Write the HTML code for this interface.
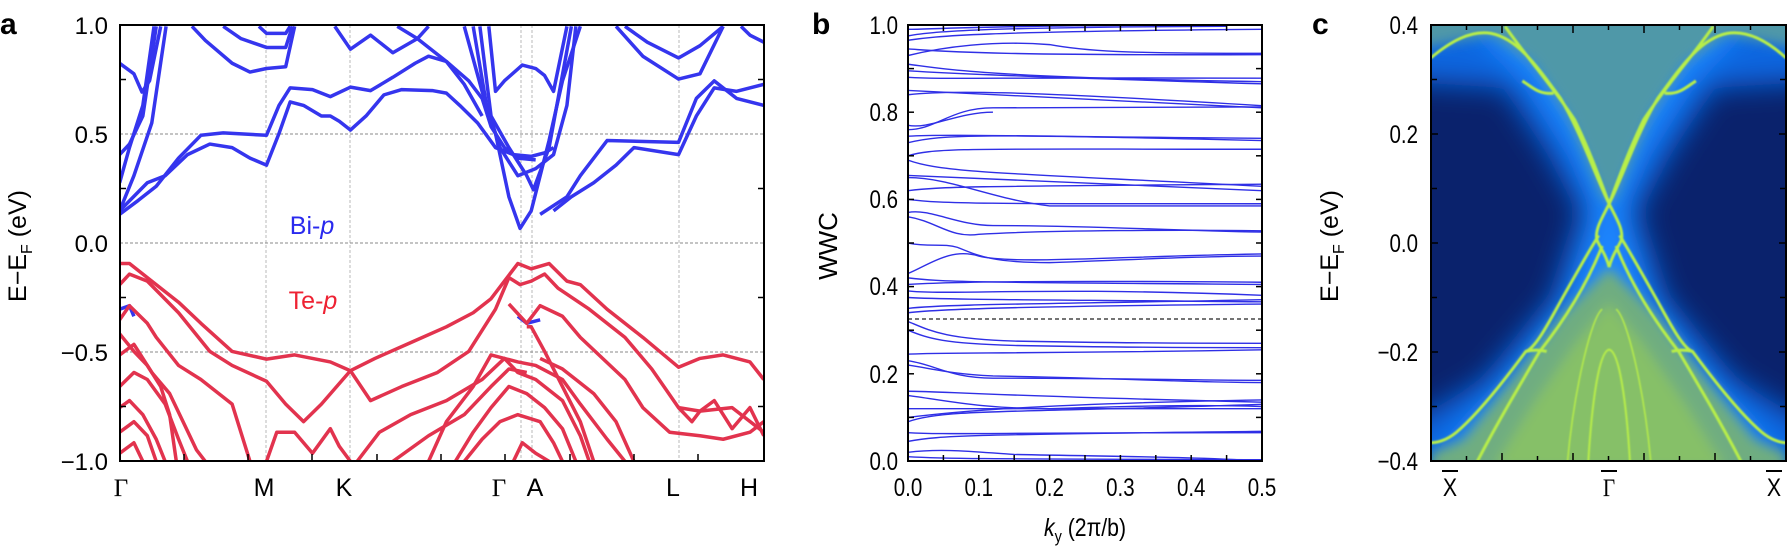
<!DOCTYPE html>
<html><head><meta charset="utf-8"><style>
html,body{margin:0;padding:0;background:#fff;}
svg{display:block;font-family:"Liberation Sans",sans-serif;}
</style></head><body>
<svg width="1788" height="551" viewBox="0 0 1788 551" xmlns="http://www.w3.org/2000/svg">
<defs>
<clipPath id="ca"><rect x="120" y="25" width="644" height="436"/></clipPath>
<clipPath id="cb"><rect x="908" y="25" width="354" height="436"/></clipPath>
<clipPath id="cc"><rect x="1431" y="25" width="355" height="436"/></clipPath>
<filter id="b15" x="-20%" y="-20%" width="140%" height="140%"><feGaussianBlur stdDeviation="14"/></filter>
<filter id="b6" x="-20%" y="-20%" width="140%" height="140%"><feGaussianBlur stdDeviation="6"/></filter>
<filter id="b1"><feGaussianBlur stdDeviation="0.9"/></filter>
</defs>

<!-- ===== Panel a ===== -->
<text x="0" y="34" font-size="30" font-weight="bold">a</text>
<g clip-path="url(#ca)">
<g stroke="#8a8a8a" stroke-width="1" stroke-dasharray="3,2" fill="none">
<line x1="120" y1="134" x2="764" y2="134"/><line x1="120" y1="243" x2="764" y2="243"/><line x1="120" y1="352" x2="764" y2="352"/>
<line x1="266" y1="25" x2="266" y2="461" stroke-width="0.6"/><line x1="350" y1="25" x2="350" y2="461" stroke-width="0.6"/>
<line x1="521" y1="25" x2="521" y2="461" stroke-width="0.6"/><line x1="532" y1="25" x2="532" y2="461" stroke-width="0.6"/>
<line x1="679" y1="25" x2="679" y2="461" stroke-width="0.6"/>
</g>
<g transform="scale(0.4464,0.3514)" fill="none" stroke-linejoin="round">
<g stroke="#3535ee" stroke-width="3.5" vector-effect="non-scaling-stroke">
<path vector-effect="non-scaling-stroke" d="M268,180 L300,210 L318,262 L335,230 L360,75"/>
<path vector-effect="non-scaling-stroke" d="M268,600 L300,500 L340,350 L372,75"/>
<path vector-effect="non-scaling-stroke" d="M268,520 L290,420 L320,300 L345,75"/>
<path vector-effect="non-scaling-stroke" d="M268,440 L290,410 L320,330 L350,75"/>
<path vector-effect="non-scaling-stroke" d="M268,600 L330,520 L370,500 L420,440 L470,410 L520,420 L560,450 L597,470 L625,380 L650,290 L680,300 L720,330 L740,330 L760,345 L785,370 L820,330 L860,270 L900,255 L970,258 L1000,265 L1030,300 L1070,350 L1110,420 L1150,440 L1190,445 L1220,435 L1240,420"/>
<path vector-effect="non-scaling-stroke" d="M268,610 L310,570 L350,530 L400,450 L450,385 L500,378 L597,385 L625,300 L650,250 L700,255 L740,275 L785,248 L830,258 L880,220 L930,180 L960,160 L1000,175 L1050,230 L1080,280 L1100,360 L1130,420 L1160,450 L1200,455"/>
<path vector-effect="non-scaling-stroke" d="M430,75 L460,115 L520,180 L560,205 L597,195 L640,190 L660,75"/>
<path vector-effect="non-scaling-stroke" d="M500,75 L540,110 L597,135 L640,135 L655,75"/>
<path vector-effect="non-scaling-stroke" d="M580,75 L597,95 L640,95 L650,75"/>
<path vector-effect="non-scaling-stroke" d="M750,75 L785,140 L830,100 L880,150 L935,110 L960,75"/>
<path vector-effect="non-scaling-stroke" d="M890,75 L935,110 L1000,175 L1040,240 L1080,330"/>
<path vector-effect="non-scaling-stroke" d="M1095,75 L1110,260 L1130,230 L1170,185 L1200,195 L1220,215 L1240,260 L1270,75"/>
<path vector-effect="non-scaling-stroke" d="M1040,75 L1080,260 L1110,380 L1140,560 L1165,650 L1190,600 L1230,400 L1260,230 L1300,75"/>
<path vector-effect="non-scaling-stroke" d="M1060,75 L1090,300 L1120,420 L1160,500 L1200,480 L1240,440 L1270,300 L1290,75"/>
<path vector-effect="non-scaling-stroke" d="M1075,75 L1100,330 L1140,420 L1180,500 L1195,540 L1230,420 L1280,75"/>
<path vector-effect="non-scaling-stroke" d="M1240,600 L1280,560 L1330,520 L1380,470 L1420,420 L1520,440 L1560,330 L1600,250 L1650,260 L1711,240"/>
<path vector-effect="non-scaling-stroke" d="M1210,610 L1270,560 L1300,500 L1360,400 L1520,405 L1560,280 L1600,230 L1650,280 L1711,300"/>
<path vector-effect="non-scaling-stroke" d="M1400,75 L1450,120 L1520,165 L1568,130 L1620,75"/>
<path vector-effect="non-scaling-stroke" d="M1380,75 L1440,160 L1520,225 L1568,210 L1620,75"/>
<path vector-effect="non-scaling-stroke" d="M1660,75 L1680,100 L1711,120"/>
<path vector-effect="non-scaling-stroke" d="M268,880 L290,870 L300,900"/>
<path vector-effect="non-scaling-stroke" d="M1160,900 L1180,920 L1210,910"/>
</g>
<g stroke="#e2334e" stroke-width="3.5">
<path vector-effect="non-scaling-stroke" d="M268,750 L290,750 L330,790 L400,860 L450,920 L520,1000 L597,1022 L660,1010 L700,1020 L740,1030 L785,1055 L840,1020 L920,975 L1000,930 L1060,890 L1100,850 L1160,750 L1190,765 L1230,750 L1270,800 L1300,810 L1360,880 L1440,960 L1520,1045 L1568,1020 L1620,1010 L1680,1030 L1711,1080"/>
<path vector-effect="non-scaling-stroke" d="M268,810 L290,780 L330,800 L400,890 L470,1000 L520,1040 L597,1085 L640,1150 L680,1200 L720,1150 L785,1055 L830,1140 L900,1100 L980,1060 L1050,1000 L1110,880 L1140,790 L1165,810 L1190,800 L1220,780 L1250,820 L1320,880 L1400,960 L1460,1050 L1520,1160 L1568,1170 L1640,1160 L1711,1230"/>
<path vector-effect="non-scaling-stroke" d="M268,910 L290,870 L330,920 L350,960 L400,1040 L450,1080 L520,1150 L560,1313"/>
<path vector-effect="non-scaling-stroke" d="M1140,865 L1180,920 L1210,870 L1260,900 L1300,960 L1400,1080 L1440,1160 L1500,1230 L1568,1240 L1620,1250 L1680,1230 L1711,1200"/>
<path vector-effect="non-scaling-stroke" d="M1180,930 L1190,930 L1220,1000 L1260,1100 L1300,1200 L1330,1313"/>
<path vector-effect="non-scaling-stroke" d="M960,1313 L1000,1200 L1060,1100 L1100,1010 L1160,1030 L1200,1040 L1260,1080 L1300,1150 L1360,1250 L1400,1313"/>
<path vector-effect="non-scaling-stroke" d="M800,1313 L850,1230 L920,1180 L1000,1140 L1080,1080 L1130,1020 L1160,1060 L1200,1080 L1260,1140 L1300,1240 L1320,1313"/>
<path vector-effect="non-scaling-stroke" d="M597,1313 L620,1230 L660,1230 L700,1290 L740,1220 L760,1270 L785,1313"/>
<path vector-effect="non-scaling-stroke" d="M268,1010 L300,980 L340,1060 L380,1120 L410,1200 L440,1280 L460,1313"/>
<path vector-effect="non-scaling-stroke" d="M268,1100 L300,1060 L330,1080 L370,1150 L400,1250 L420,1313"/>
<path vector-effect="non-scaling-stroke" d="M268,1160 L290,1140 L320,1180 L350,1250 L370,1313"/>
<path vector-effect="non-scaling-stroke" d="M268,1230 L300,1200 L330,1240 L350,1313"/>
<path vector-effect="non-scaling-stroke" d="M268,1290 L300,1260 L320,1313"/>
<path vector-effect="non-scaling-stroke" d="M268,950 L300,1000 L330,1040 L360,1100 L380,1180 L395,1313"/>
<path vector-effect="non-scaling-stroke" d="M1020,1313 L1060,1230 L1100,1160 L1140,1100 L1180,1120 L1220,1160 L1260,1220 L1290,1313"/>
<path vector-effect="non-scaling-stroke" d="M1040,1313 L1080,1250 L1120,1200 L1160,1180 L1210,1200 L1240,1260 L1260,1313"/>
<path vector-effect="non-scaling-stroke" d="M880,1313 L960,1240 L1040,1180 L1100,1100 L1140,1050 L1180,1060"/>
<path vector-effect="non-scaling-stroke" d="M1210,1020 L1260,1050 L1330,1120 L1380,1200 L1420,1313"/>
<path vector-effect="non-scaling-stroke" d="M1520,1160 L1550,1200 L1568,1170 L1600,1140 L1640,1220 L1680,1160 L1711,1240"/>
<path vector-effect="non-scaling-stroke" d="M1150,1313 L1170,1260 L1200,1290 L1230,1313"/>
</g>
</g>
</g>
<rect x="120" y="25" width="644" height="436" fill="none" stroke="#000" stroke-width="2"/>
<g stroke="#000" stroke-width="1.5">
<line x1="120" y1="79.5" x2="126" y2="79.5"/><line x1="120" y1="188.5" x2="126" y2="188.5"/><line x1="120" y1="297.5" x2="126" y2="297.5"/><line x1="120" y1="406.5" x2="126" y2="406.5"/>
<line x1="764" y1="79.5" x2="758" y2="79.5"/><line x1="764" y1="188.5" x2="758" y2="188.5"/><line x1="764" y1="297.5" x2="758" y2="297.5"/><line x1="764" y1="406.5" x2="758" y2="406.5"/>
<line x1="184" y1="461" x2="184" y2="454"/><line x1="248" y1="461" x2="248" y2="454"/><line x1="312" y1="461" x2="312" y2="454"/><line x1="377" y1="461" x2="377" y2="454"/><line x1="441" y1="461" x2="441" y2="454"/><line x1="505" y1="461" x2="505" y2="454"/><line x1="570" y1="461" x2="570" y2="454"/><line x1="634" y1="461" x2="634" y2="454"/><line x1="698" y1="461" x2="698" y2="454"/>
</g>
<g font-size="24" text-anchor="end">
<text x="108" y="34">1.0</text><text x="108" y="143">0.5</text><text x="108" y="252">0.0</text><text x="108" y="361">−0.5</text><text x="108" y="470">−1.0</text>
</g>
<text transform="translate(26,246) rotate(-90)" font-size="25" text-anchor="middle">E−E<tspan font-size="16" dy="6">F</tspan><tspan dy="-6"> (eV)</tspan></text>
<g font-size="25" text-anchor="middle">
<text x="121" y="496" font-family="Liberation Serif,serif">Γ</text><text x="264" y="496">M</text><text x="344" y="496">K</text>
<text x="499" y="496" font-family="Liberation Serif,serif">Γ</text><text x="535" y="496">A</text><text x="673" y="496">L</text><text x="749" y="496">H</text>
</g>
<text x="312" y="234" font-size="25" text-anchor="middle" fill="#2a2aee">Bi-<tspan font-style="italic">p</tspan></text>
<text x="313" y="309" font-size="25" text-anchor="middle" fill="#ee2233">Te-<tspan font-style="italic">p</tspan></text>

<!-- ===== Panel b ===== -->
<text x="812" y="34" font-size="30" font-weight="bold">b</text>
<g clip-path="url(#cb)">
<line x1="908" y1="319" x2="1262" y2="319" stroke="#222" stroke-width="1.3" stroke-dasharray="4,3"/>
<g transform="translate(908,461) scale(708,-436)" fill="none" stroke="#2f2fe6" stroke-width="1.4">
<path vector-effect="non-scaling-stroke" d="M0,0.99 C0.04,0.99 0.08,1.0 0.5,1.0"/>
<path vector-effect="non-scaling-stroke" d="M0,0.965 C0.04,0.975 0.1,0.985 0.5,0.99"/>
<path vector-effect="non-scaling-stroke" d="M0,0.975 C0.03,0.985 0.1,0.995 0.45,0.997"/>
<path vector-effect="non-scaling-stroke" d="M0,0.945 C0.05,0.94 0.1,0.93 0.5,0.932"/>
<path vector-effect="non-scaling-stroke" d="M0,0.93 C0.05,0.95 0.12,0.965 0.2,0.955 C0.25,0.94 0.3,0.935 0.5,0.935"/>
<path vector-effect="non-scaling-stroke" d="M0,0.91 C0.05,0.9 0.1,0.88 0.5,0.87"/>
<path vector-effect="non-scaling-stroke" d="M0,0.895 C0.05,0.89 0.1,0.885 0.5,0.865"/>
<path vector-effect="non-scaling-stroke" d="M0,0.88 C0.05,0.875 0.1,0.88 0.5,0.878"/>
<path vector-effect="non-scaling-stroke" d="M0,0.85 C0.05,0.845 0.15,0.84 0.5,0.81"/>
<path vector-effect="non-scaling-stroke" d="M0,0.84 C0.05,0.85 0.15,0.85 0.5,0.815"/>
<path vector-effect="non-scaling-stroke" d="M0,0.76 C0.04,0.76 0.06,0.81 0.12,0.81 C0.2,0.81 0.3,0.81 0.5,0.812"/>
<path vector-effect="non-scaling-stroke" d="M0,0.77 C0.03,0.76 0.07,0.8 0.12,0.8"/>
<path vector-effect="non-scaling-stroke" d="M0,0.73 C0.05,0.75 0.1,0.75 0.5,0.735"/>
<path vector-effect="non-scaling-stroke" d="M0,0.745 C0.05,0.75 0.15,0.745 0.5,0.74"/>
<path vector-effect="non-scaling-stroke" d="M0,0.7 C0.04,0.72 0.1,0.715 0.5,0.715"/>
<path vector-effect="non-scaling-stroke" d="M0,0.69 C0.05,0.66 0.15,0.66 0.5,0.63"/>
<path vector-effect="non-scaling-stroke" d="M0,0.655 C0.05,0.65 0.15,0.645 0.5,0.62"/>
<path vector-effect="non-scaling-stroke" d="M0,0.65 C0.06,0.65 0.12,0.6 0.2,0.585 C0.3,0.585 0.4,0.585 0.5,0.585"/>
<path vector-effect="non-scaling-stroke" d="M0,0.62 C0.05,0.63 0.1,0.63 0.5,0.635"/>
<path vector-effect="non-scaling-stroke" d="M0,0.6 C0.05,0.59 0.1,0.59 0.5,0.59"/>
<path vector-effect="non-scaling-stroke" d="M0,0.57 C0.03,0.58 0.07,0.54 0.12,0.54 C0.25,0.54 0.35,0.53 0.5,0.525"/>
<path vector-effect="non-scaling-stroke" d="M0,0.56 C0.04,0.55 0.06,0.51 0.1,0.52 C0.2,0.53 0.4,0.53 0.5,0.528"/>
<path vector-effect="non-scaling-stroke" d="M0,0.5 C0.03,0.49 0.05,0.5 0.07,0.49 C0.1,0.47 0.12,0.455 0.2,0.455 C0.3,0.46 0.4,0.47 0.5,0.47"/>
<path vector-effect="non-scaling-stroke" d="M0,0.43 C0.03,0.45 0.06,0.49 0.1,0.47 C0.15,0.45 0.3,0.47 0.5,0.475"/>
<path vector-effect="non-scaling-stroke" d="M0,0.42 C0.05,0.41 0.1,0.41 0.5,0.405"/>
<path vector-effect="non-scaling-stroke" d="M0,0.405 C0.05,0.41 0.15,0.415 0.5,0.41"/>
<path vector-effect="non-scaling-stroke" d="M0,0.39 C0.05,0.38 0.2,0.4 0.5,0.38"/>
<path vector-effect="non-scaling-stroke" d="M0,0.375 C0.05,0.37 0.2,0.37 0.5,0.365"/>
<path vector-effect="non-scaling-stroke" d="M0,0.35 C0.05,0.36 0.2,0.36 0.5,0.37"/>
<path vector-effect="non-scaling-stroke" d="M0,0.34 C0.05,0.35 0.2,0.355 0.5,0.36"/>
<path vector-effect="non-scaling-stroke" d="M0,0.32 C0.03,0.3 0.05,0.28 0.15,0.275 C0.3,0.27 0.4,0.27 0.5,0.27"/>
<path vector-effect="non-scaling-stroke" d="M0,0.3 C0.03,0.28 0.05,0.27 0.15,0.265 C0.3,0.26 0.4,0.26 0.5,0.26"/>
<path vector-effect="non-scaling-stroke" d="M0,0.245 C0.05,0.25 0.15,0.245 0.5,0.255"/>
<path vector-effect="non-scaling-stroke" d="M0,0.23 C0.04,0.22 0.06,0.19 0.12,0.19 C0.3,0.19 0.4,0.185 0.5,0.185"/>
<path vector-effect="non-scaling-stroke" d="M0,0.22 C0.04,0.21 0.06,0.2 0.12,0.195 C0.3,0.19 0.4,0.18 0.5,0.18"/>
<path vector-effect="non-scaling-stroke" d="M0,0.16 C0.05,0.16 0.1,0.15 0.5,0.135"/>
<path vector-effect="non-scaling-stroke" d="M0,0.15 C0.05,0.14 0.1,0.12 0.2,0.12 C0.3,0.125 0.4,0.13 0.5,0.125"/>
<path vector-effect="non-scaling-stroke" d="M0,0.12 C0.05,0.12 0.15,0.12 0.5,0.12"/>
<path vector-effect="non-scaling-stroke" d="M0,0.09 C0.05,0.12 0.15,0.11 0.5,0.13"/>
<path vector-effect="non-scaling-stroke" d="M0,0.1 C0.05,0.11 0.15,0.13 0.5,0.14"/>
<path vector-effect="non-scaling-stroke" d="M0,0.065 C0.05,0.06 0.1,0.065 0.5,0.065"/>
<path vector-effect="non-scaling-stroke" d="M0,0.045 C0.05,0.06 0.1,0.06 0.5,0.068"/>
<path vector-effect="non-scaling-stroke" d="M0,0.02 C0.05,0.03 0.1,0.02 0.15,0.015 C0.3,0.01 0.4,0.01 0.5,0.0"/>
<path vector-effect="non-scaling-stroke" d="M0,0.01 C0.05,0.005 0.1,0.005 0.5,0.003"/>
</g>
</g>
<rect x="908" y="25" width="354" height="436" fill="none" stroke="#000" stroke-width="2"/>
<g stroke="#000" stroke-width="1.5">
<line x1="908" y1="68.6" x2="914" y2="68.6"/><line x1="908" y1="112.2" x2="914" y2="112.2"/><line x1="908" y1="155.8" x2="914" y2="155.8"/><line x1="908" y1="199.4" x2="914" y2="199.4"/><line x1="908" y1="243" x2="914" y2="243"/><line x1="908" y1="286.6" x2="914" y2="286.6"/><line x1="908" y1="330.2" x2="914" y2="330.2"/><line x1="908" y1="373.8" x2="914" y2="373.8"/><line x1="908" y1="417.4" x2="914" y2="417.4"/>
<line x1="1262" y1="68.6" x2="1256" y2="68.6"/><line x1="1262" y1="112.2" x2="1256" y2="112.2"/><line x1="1262" y1="155.8" x2="1256" y2="155.8"/><line x1="1262" y1="199.4" x2="1256" y2="199.4"/><line x1="1262" y1="243" x2="1256" y2="243"/><line x1="1262" y1="286.6" x2="1256" y2="286.6"/><line x1="1262" y1="330.2" x2="1256" y2="330.2"/><line x1="1262" y1="373.8" x2="1256" y2="373.8"/><line x1="1262" y1="417.4" x2="1256" y2="417.4"/>
<line x1="943.4" y1="461" x2="943.4" y2="455"/><line x1="978.8" y1="461" x2="978.8" y2="455"/><line x1="1014.2" y1="461" x2="1014.2" y2="455"/><line x1="1049.6" y1="461" x2="1049.6" y2="455"/><line x1="1085" y1="461" x2="1085" y2="455"/><line x1="1120.4" y1="461" x2="1120.4" y2="455"/><line x1="1155.8" y1="461" x2="1155.8" y2="455"/><line x1="1191.2" y1="461" x2="1191.2" y2="455"/><line x1="1226.6" y1="461" x2="1226.6" y2="455"/>
<line x1="943.4" y1="25" x2="943.4" y2="31"/><line x1="978.8" y1="25" x2="978.8" y2="31"/><line x1="1014.2" y1="25" x2="1014.2" y2="31"/><line x1="1049.6" y1="25" x2="1049.6" y2="31"/><line x1="1085" y1="25" x2="1085" y2="31"/><line x1="1120.4" y1="25" x2="1120.4" y2="31"/><line x1="1155.8" y1="25" x2="1155.8" y2="31"/><line x1="1191.2" y1="25" x2="1191.2" y2="31"/><line x1="1226.6" y1="25" x2="1226.6" y2="31"/>
</g>
<g font-size="25" text-anchor="end">
<text x="898" y="34" transform="translate(898,0) scale(0.82,1) translate(-898,0)">1.0</text>
<text x="898" y="121" transform="translate(898,0) scale(0.82,1) translate(-898,0)">0.8</text>
<text x="898" y="208" transform="translate(898,0) scale(0.82,1) translate(-898,0)">0.6</text>
<text x="898" y="295" transform="translate(898,0) scale(0.82,1) translate(-898,0)">0.4</text>
<text x="898" y="383" transform="translate(898,0) scale(0.82,1) translate(-898,0)">0.2</text>
<text x="898" y="470" transform="translate(898,0) scale(0.82,1) translate(-898,0)">0.0</text>
</g>
<g font-size="25" text-anchor="middle">
<text transform="translate(908,496) scale(0.82,1)">0.0</text>
<text transform="translate(978.8,496) scale(0.82,1)">0.1</text>
<text transform="translate(1049.6,496) scale(0.82,1)">0.2</text>
<text transform="translate(1120.4,496) scale(0.82,1)">0.3</text>
<text transform="translate(1191.2,496) scale(0.82,1)">0.4</text>
<text transform="translate(1262,496) scale(0.82,1)">0.5</text>
</g>
<text transform="translate(837,246) rotate(-90)" font-size="26" text-anchor="middle">WWC</text>
<text transform="translate(1085,536) scale(0.85,1)" font-size="25" text-anchor="middle"><tspan font-style="italic">k</tspan><tspan font-size="17" dy="6">y</tspan><tspan dy="-6"> (2π/b)</tspan></text>

<!-- ===== Panel c ===== -->
<text x="1312" y="34" font-size="30" font-weight="bold">c</text>
<g clip-path="url(#cc)">
<rect x="1431" y="25" width="355" height="436" fill="#0a226c"/>
<g filter="url(#b15)">
<g transform="translate(700,0) scale(0.694,0.3514)">
<polygon fill="#1166e0" points="1000,30 1620,30 1620,230 1460,250 1400,430 1350,600 1390,850 1490,1080 1620,1230 1620,1360 1000,1360 1000,1230 1130,1080 1230,850 1270,600 1220,430 1160,250 1000,230"/>
<polygon fill="#1a86ff" points="1100,30 1520,30 1420,250 1360,440 1330,600 1370,840 1450,1060 1530,1240 1565,1360 1053,1360 1090,1240 1170,1060 1250,840 1290,600 1260,440 1200,250"/>
</g>
</g>
<g filter="url(#b6)">
<g transform="translate(700,0) scale(0.694,0.3514)">
<polygon fill="#4f98a8" points="1030,30 1590,30 1590,140 1480,100 1420,180 1370,330 1320,560 1310,580 1300,560 1250,330 1200,180 1140,100 1030,140"/>
<polygon fill="#70ad80" points="1310,760 1380,900 1450,1080 1520,1250 1565,1290 1565,1340 1053,1340 1053,1290 1100,1250 1170,1080 1240,900"/>
<polygon fill="#86c068" points="1310,860 1360,980 1420,1150 1480,1340 1140,1340 1200,1150 1260,980"/>
</g>
</g>
<g filter="url(#b1)">
<g transform="translate(700,0) scale(0.694,0.3514)" fill="none" stroke="#b8ee48" stroke-width="3">
<path vector-effect="non-scaling-stroke" d="M1053,165 C1080,120 1110,85 1140,95 C1180,110 1210,200 1240,280 C1270,380 1290,500 1310,580 C1330,500 1350,380 1380,280 C1410,200 1440,110 1480,95 C1510,85 1540,120 1565,165"/>
<path vector-effect="non-scaling-stroke" d="M1160,75 C1190,160 1230,250 1260,340 C1280,420 1295,500 1310,580 C1325,500 1340,420 1360,340 C1390,250 1430,160 1460,75"/>
<path vector-effect="non-scaling-stroke" d="M1185,230 C1200,250 1210,270 1230,265"/>
<path vector-effect="non-scaling-stroke" d="M1435,230 C1420,250 1410,270 1390,265"/>
<path vector-effect="non-scaling-stroke" d="M1310,580 C1300,620 1290,650 1292,680 C1295,700 1305,720 1310,760 C1315,720 1325,700 1328,680 C1330,650 1320,620 1310,580"/>
<path vector-effect="non-scaling-stroke" d="M1295,670 C1285,700 1265,770 1245,840 C1225,910 1205,990 1190,1000 C1160,1080 1120,1180 1090,1230 C1075,1255 1060,1260 1053,1260"/>
<path vector-effect="non-scaling-stroke" d="M1325,670 C1335,700 1355,770 1375,840 C1395,910 1415,990 1430,1000 C1460,1080 1500,1180 1530,1230 C1545,1255 1560,1260 1565,1260"/>
<path vector-effect="non-scaling-stroke" d="M1300,700 C1280,800 1250,900 1210,1000 C1180,1100 1150,1200 1120,1313"/>
<path vector-effect="non-scaling-stroke" d="M1320,700 C1340,800 1370,900 1410,1000 C1440,1100 1470,1200 1500,1313"/>
<path vector-effect="non-scaling-stroke" d="M1190,1000 C1200,995 1210,995 1220,1000"/>
<path vector-effect="non-scaling-stroke" d="M1430,1000 C1420,995 1410,995 1400,1000"/>
<path vector-effect="non-scaling-stroke" d="M1280,1313 C1285,1150 1295,1000 1310,995 C1325,1000 1335,1150 1340,1313" stroke-width="2"/>
<path vector-effect="non-scaling-stroke" d="M1250,1313 C1260,1100 1285,900 1300,880" stroke-width="1.5"/>
<path vector-effect="non-scaling-stroke" d="M1370,1313 C1360,1100 1335,900 1320,880" stroke-width="1.5"/>
</g>
</g>
</g>
<rect x="1431" y="25" width="355" height="436" fill="none" stroke="#000" stroke-width="2"/>
<g stroke="#000" stroke-width="1.5">
<line x1="1431" y1="79.5" x2="1437" y2="79.5"/><line x1="1431" y1="134" x2="1438" y2="134"/><line x1="1431" y1="188.5" x2="1437" y2="188.5"/><line x1="1431" y1="243" x2="1438" y2="243"/><line x1="1431" y1="297.5" x2="1437" y2="297.5"/><line x1="1431" y1="352" x2="1438" y2="352"/><line x1="1431" y1="406.5" x2="1437" y2="406.5"/>
<line x1="1786" y1="79.5" x2="1780" y2="79.5"/><line x1="1786" y1="134" x2="1779" y2="134"/><line x1="1786" y1="188.5" x2="1780" y2="188.5"/><line x1="1786" y1="243" x2="1779" y2="243"/><line x1="1786" y1="297.5" x2="1780" y2="297.5"/><line x1="1786" y1="352" x2="1779" y2="352"/><line x1="1786" y1="406.5" x2="1780" y2="406.5"/>
<line x1="1466.5" y1="25" x2="1466.5" y2="30"/><line x1="1502" y1="25" x2="1502" y2="33"/><line x1="1537.5" y1="25" x2="1537.5" y2="30"/><line x1="1573" y1="25" x2="1573" y2="33"/><line x1="1608.5" y1="25" x2="1608.5" y2="30"/><line x1="1644" y1="25" x2="1644" y2="33"/><line x1="1679.5" y1="25" x2="1679.5" y2="30"/><line x1="1715" y1="25" x2="1715" y2="33"/><line x1="1750.5" y1="25" x2="1750.5" y2="30"/>
<line x1="1466.5" y1="461" x2="1466.5" y2="456"/><line x1="1502" y1="461" x2="1502" y2="453"/><line x1="1537.5" y1="461" x2="1537.5" y2="456"/><line x1="1573" y1="461" x2="1573" y2="453"/><line x1="1608.5" y1="461" x2="1608.5" y2="456"/><line x1="1644" y1="461" x2="1644" y2="453"/><line x1="1679.5" y1="461" x2="1679.5" y2="456"/><line x1="1715" y1="461" x2="1715" y2="453"/><line x1="1750.5" y1="461" x2="1750.5" y2="456"/>
</g>
<g font-size="25" text-anchor="end">
<text transform="translate(1418,34) scale(0.82,1)">0.4</text>
<text transform="translate(1418,143) scale(0.82,1)">0.2</text>
<text transform="translate(1418,252) scale(0.82,1)">0.0</text>
<text transform="translate(1418,361) scale(0.82,1)">−0.2</text>
<text transform="translate(1418,470) scale(0.82,1)">−0.4</text>
</g>
<text transform="translate(1338,246) rotate(-90)" font-size="25" text-anchor="middle">E−E<tspan font-size="16" dy="6">F</tspan><tspan dy="-6"> (eV)</tspan></text>
<g font-size="25" text-anchor="middle">
<text transform="translate(1450,496) scale(0.85,1)">X</text>
<text transform="translate(1609,496) scale(0.85,1)" font-family="Liberation Serif,serif">Γ</text>
<text transform="translate(1774,496) scale(0.85,1)">X</text>
</g>
<g stroke="#000" stroke-width="2">
<line x1="1442" y1="471" x2="1458" y2="471"/><line x1="1601" y1="471" x2="1617" y2="471"/><line x1="1766" y1="471" x2="1782" y2="471"/>
</g>
</svg>
</body></html>
